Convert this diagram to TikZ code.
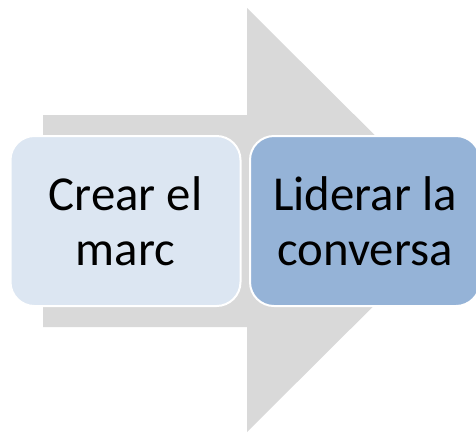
\documentclass[tikz,border=0pt]{standalone}
\usepackage{fontspec}
\setmainfont{Carlito}
\definecolor{arrowgray}{HTML}{D9D9D9}
\definecolor{lightstep}{HTML}{DCE6F2}
\definecolor{darkstep}{HTML}{95B3D7}
\begin{document}
\begin{tikzpicture}[x=1pt,y=-1pt,
    stepbox/.style={rectangle,rounded corners=24pt,draw=white,line width=2pt,
        minimum width=230pt,minimum height=170pt,align=center,
        font=\fontsize{48.8}{55}\selectfont,inner sep=0pt}]
            \useasboundingbox (0,0) rectangle (476,432);
            % big arrow behind
            \fill[arrowgray] (43,115) -- (247,115) -- (247,8) -- (460,220)
                -- (247,432) -- (247,327) -- (43,327) -- cycle;

            \node[stepbox,fill=lightstep] (marc) at (125.5,221) {Crear el\\marc};
            \node[stepbox,fill=darkstep] (conversa) at (365,221) {Liderar la\\conversa};
        \end{tikzpicture}
\end{document}
